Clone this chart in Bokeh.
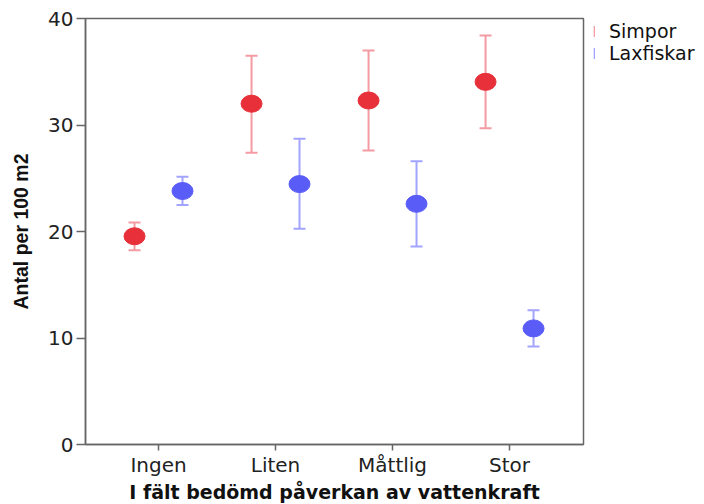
from bokeh.plotting import figure
from bokeh.models import (ColumnDataSource, Whisker, TeeHead, FixedTicker,
                          Legend, LegendItem, Range1d)
from bokeh.embed import file_html
from bokeh.resources import INLINE

categories = ["Ingen", "Liten", "Måttlig", "Stor"]
simpor_mean = [19.55, 32.0, 32.3, 34.05]
simpor_lower = [18.25, 27.4, 27.6, 29.7]
simpor_upper = [20.85, 36.5, 37.0, 38.4]
lax_mean = [23.8, 24.45, 22.6, 10.9]
lax_lower = [22.5, 20.25, 18.6, 9.2]
lax_upper = [25.15, 28.7, 26.6, 12.6]
y_ticks = [0, 10, 20, 30, 40]

RED = "#e8303a"
RED_LIGHT = "#f49aa2"
BLUE = "#5a5cf8"
BLUE_LIGHT = "#a3a4ff"
AXIS = "#666666"
FONT = "DejaVu Sans"

pos = list(range(1, len(categories) + 1))
off = 0.205
src_s = ColumnDataSource(dict(x=[p_ - off for p_ in pos], y=simpor_mean,
                              lo=simpor_lower, hi=simpor_upper))
src_l = ColumnDataSource(dict(x=[p_ + off for p_ in pos], y=lax_mean,
                              lo=lax_lower, hi=lax_upper))

p = figure(frame_width=498, frame_height=426,
           x_range=Range1d(0.376, 4.632), y_range=Range1d(0, 40),
           output_backend="svg", toolbar_location=None,
           min_border_left=85, min_border_top=18, min_border_right=110,
           min_border_bottom=50)
p.xgrid.visible = False
p.ygrid.visible = False
p.outline_line_color = AXIS
p.outline_line_width = 1.5
p.background_fill_color = "white"
p.border_fill_color = "white"

for src, lc in ((src_s, RED_LIGHT), (src_l, BLUE_LIGHT)):
    w = Whisker(source=src, base="x", lower="lo", upper="hi", dimension="height",
                line_color=lc, line_width=2,
                upper_head=TeeHead(size=12, line_color=lc, line_width=2),
                lower_head=TeeHead(size=12, line_color=lc, line_width=2))
    p.add_layout(w)

p.ellipse(x="x", y="y", width=21, height=17, width_units="screen",
          height_units="screen", source=src_s, fill_color=RED, line_color=RED)
p.ellipse(x="x", y="y", width=21, height=17, width_units="screen",
          height_units="screen", source=src_l, fill_color=BLUE, line_color=BLUE)

# axes
p.xaxis.ticker = FixedTicker(ticks=pos)
p.xaxis.major_label_overrides = {i: c for i, c in zip(pos, categories)}
p.yaxis.ticker = FixedTicker(ticks=y_ticks)
for ax in (p.xaxis[0], p.yaxis[0]):
    ax.axis_line_color = AXIS
    ax.axis_line_width = 1.5
    ax.major_tick_line_color = AXIS
    ax.major_tick_line_width = 1.5
    ax.major_tick_in = 0
    ax.minor_tick_line_color = None
    ax.major_label_text_font = FONT
    ax.major_label_text_font_size = "20px"
    ax.major_label_text_color = "#222222"
    ax.axis_label_text_color = "#111111"
    ax.axis_label_text_font_style = "bold"

p.xaxis.major_tick_out = 6
p.yaxis.major_tick_out = 9

p.xaxis.axis_label = "I fält bedömd påverkan av vattenkraft"
p.xaxis.axis_label_text_font = FONT
p.xaxis.axis_label_text_font_size = "19px"
p.xaxis.major_label_standoff = 2
p.xaxis.axis_label_standoff = 1

p.yaxis.axis_label = "Antal per 100 m2"
p.yaxis.axis_label_text_font = "Liberation Sans"
p.yaxis.axis_label_text_font_size = "19.5px"
p.yaxis.major_label_standoff = 3
p.yaxis.axis_label_standoff = 13

# legend glyphs (dummy renderers outside the visible range)
dummy_s = p.rect(x=[-100], y=[-100], width=1, height=1,
                 fill_color=RED_LIGHT, line_color=None)
dummy_l = p.rect(x=[-100], y=[-100], width=1, height=1,
                 fill_color=BLUE_LIGHT, line_color=None)
legend = Legend(items=[LegendItem(label="Simpor", renderers=[dummy_s]),
                       LegendItem(label="Laxfiskar", renderers=[dummy_l])],
                location=(10, 380), margin=0, padding=1, spacing=0,
                glyph_width=2, glyph_height=14, label_height=21,
                label_standoff=14, border_line_color=None,
                background_fill_alpha=0,
                label_text_font=FONT, label_text_font_size="19px",
                label_text_color="#111111")
p.add_layout(legend, "right")

open("out.html", "w").write(file_html(p, INLINE))
